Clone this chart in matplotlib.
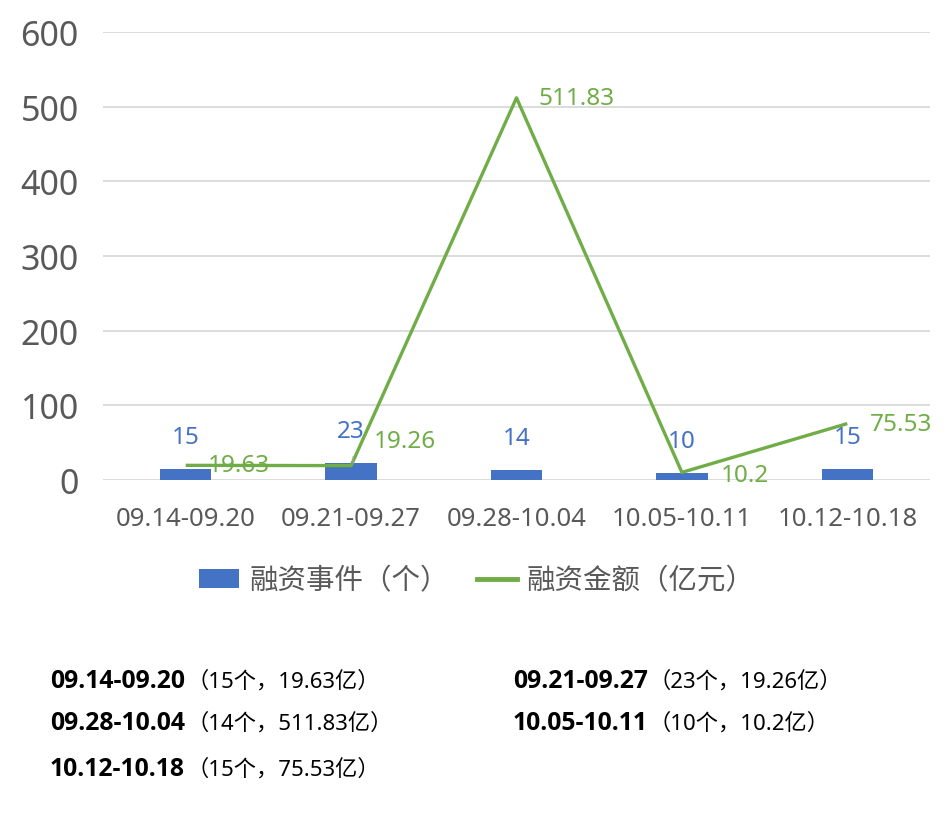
import matplotlib
matplotlib.use("Agg")
import matplotlib.pyplot as plt
from matplotlib.patches import Patch
from matplotlib.lines import Line2D

plt.rcParams['font.family'] = ['Noto Sans', 'Noto Sans CJK SC', 'DejaVu Sans']

categories = ["09.14-09.20", "09.21-09.27", "09.28-10.04", "10.05-10.11", "10.12-10.18"]
events = [15, 23, 14, 10, 15]
amounts = [19.63, 19.26, 511.83, 10.2, 75.53]
amount_labels = ["19.63", "19.26", "511.83", "10.2", "75.53"]
y_ticks = [0, 100, 200, 300, 400, 500, 600]
legend_labels = ["融资事件（个）", "融资金额（亿元）"]
event_unit = "个"
amount_unit = "亿"

BLUE = "#4472C4"
GREEN = "#70AD47"
GRAY = "#595959"
GRID = "#D9D9D9"

W, H = 952, 837
fig = plt.figure(figsize=(W / 100, H / 100), dpi=100)
ax = fig.add_axes([103 / W, 1 - 481 / H, (930 - 103) / W, (481 - 33) / H])

x = list(range(len(categories)))
ax.bar(x, events, width=0.31, color=BLUE, zorder=2)
ax.plot(x, amounts, color=GREEN, linewidth=2.4, zorder=3, solid_capstyle='butt')

ax.set_xlim(-0.5, len(categories) - 0.5)
ax.set_ylim(0, 600)
ax.set_yticks(y_ticks)
ax.set_yticklabels([str(v) for v in y_ticks], fontsize=24.5, color=GRAY)
ax.set_xticks(x)
ax.set_xticklabels(categories, fontsize=18.5, color=GRAY)
ax.tick_params(axis='both', length=0)
ax.tick_params(axis='y', pad=17.5)
ax.tick_params(axis='x', pad=19)
for s in ax.spines.values():
    s.set_visible(False)
ax.yaxis.grid(True, color=GRID, linewidth=1.3, zorder=0)
ax.set_axisbelow(True)

# bar labels
for xi, v in zip(x, events):
    ax.annotate(str(v), (xi, v), xytext=(0, 14), textcoords='offset points',
                ha='center', va='bottom', fontsize=17.5, color=BLUE, zorder=4)

# line labels (offsets in points)
offsets = [(16, 0), (16, 18), (16, 0), (28, -2), (16, 0)]
for xi, v, lab, off in zip(x, amounts, amount_labels, offsets):
    ax.annotate(lab, (xi, v), xytext=off, textcoords='offset points',
                ha='left', va='center', fontsize=17.5, color=GREEN, zorder=4)

# leader line for 19.26 label
ax.annotate("", xy=(1 + 0.012, amounts[1]), xytext=(1 + 0.012, amounts[1] + 16),
            arrowprops=dict(arrowstyle='-', color='#A6A6A6', lw=0.8))

handles = [Patch(facecolor=BLUE, edgecolor='none'),
           Line2D([0], [0], color=GREEN, linewidth=3.5)]
fig.legend(handles, legend_labels, loc='center', bbox_to_anchor=(477 / W, 1 - 582 / H),
           ncol=2, frameon=False, fontsize=20.5, labelcolor=GRAY,
           handlelength=1.4, handleheight=0.65, handletextpad=0.35, columnspacing=1.0)

# summary text
col_x = [50, 513]
row_y = [682, 724, 770]
normal_dx = 136
for i, (cat, ev, lab) in enumerate(zip(categories, events, amount_labels)):
    cx = col_x[i % 2]
    cy = row_y[i // 2]
    fig.text(cx / W, 1 - cy / H, cat, fontsize=17.8, fontweight='bold', color='black',
             family=['Open Sans', 'Liberation Sans', 'DejaVu Sans'],
             ha='left', va='center')
    fig.text((cx + normal_dx) / W, 1 - cy / H, f"（{ev}{event_unit}，{lab}{amount_unit}）",
             fontsize=16, color='black', ha='left', va='center')

fig.savefig("out.png", dpi=100, facecolor='white')
